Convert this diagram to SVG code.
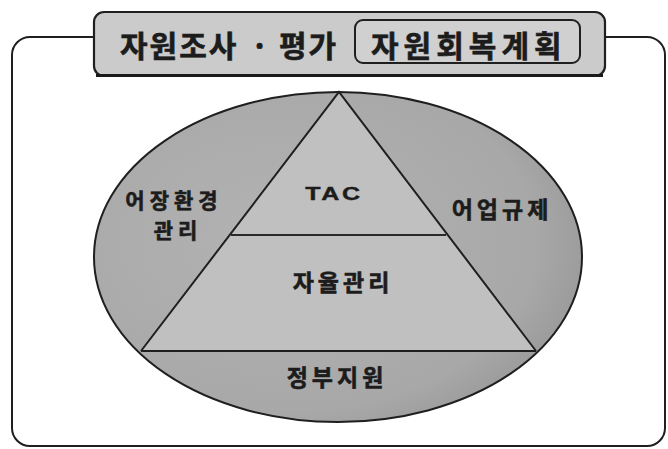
<svg xmlns="http://www.w3.org/2000/svg" width="668" height="449" viewBox="0 0 668 449">
  <style>
    .k { font-family: "Noto Sans CJK KR", "Noto Sans", sans-serif; font-weight: bold; fill: #1c1c1c; stroke: #1c1c1c; stroke-width: 0.6; }
    .lat { font-family: "Liberation Sans", "Noto Sans CJK KR", sans-serif; font-weight: bold; fill: #1c1c1c; stroke: #1c1c1c; stroke-width: 0.4; }
    .lbl { font-size: 23px; letter-spacing: 4px; text-anchor: middle; }
    .edge { fill: none; stroke: #1f1f1f; stroke-width: 2; }
    .thin { fill: none; stroke: #2a2a2a; stroke-width: 1.8; }
  </style>
  <defs>
    <radialGradient id="ellGrad" cx="0.38" cy="0.45" r="0.75">
      <stop offset="0" stop-color="#b3b3b3"/>
      <stop offset="0.7" stop-color="#a8a8a8"/>
      <stop offset="1" stop-color="#8e8e8e"/>
    </radialGradient>
    <linearGradient id="frameGrad" x1="0" y1="0" x2="1" y2="0">
      <stop offset="0" stop-color="#d8d8d8"/>
      <stop offset="0.5" stop-color="#e3e3e3"/>
      <stop offset="1" stop-color="#dbdbdb"/>
    </linearGradient>
    <clipPath id="ellClip">
      <ellipse cx="338" cy="257" rx="244" ry="165"/>
    </clipPath>
  </defs>

  <rect x="0" y="0" width="668" height="449" fill="#ffffff"/>

  <g id="frame">
    <rect x="12" y="37" width="653" height="409" rx="18" ry="18" fill="url(#frameGrad)" class="edge"/>
  </g>

  <g id="title-tab">
    <rect x="94" y="12" width="511" height="64" rx="10" ry="10" fill="#cbcbcb" stroke="#1f1f1f" stroke-width="2.2"/>
    <line x1="96" y1="75.5" x2="603" y2="75.5" stroke="#1a1a1a" stroke-width="3"/>
    <text class="k" font-size="30" y="57">
      <tspan x="120" letter-spacing="2">자원조사</tspan>
      <tspan x="263" text-anchor="middle">·</tspan>
      <tspan x="279" letter-spacing="2">평가</tspan>
    </text>
    <g id="title-box">
      <rect x="355" y="20" width="225" height="43" rx="8" ry="8" fill="#d0d0d0" stroke="#1f1f1f" stroke-width="2"/>
      <text class="k" font-size="30" x="371" y="57" letter-spacing="5">자원회복계획</text>
    </g>
  </g>

  <g id="ellipse">
    <ellipse cx="338" cy="257" rx="244" ry="165" fill="url(#ellGrad)"/>
  </g>

  <g id="triangle">
    <polygon points="339,92 141,351 536,351" fill="#c0c0c0" clip-path="url(#ellClip)"/>
  </g>

  <g id="connectors">
    <ellipse cx="338" cy="257" rx="244" ry="165" class="edge"/>
    <polyline points="141,351 339,92 536,351" class="edge"/>
    <line x1="141" y1="351" x2="536" y2="351" class="edge"/>
    <line x1="231" y1="235" x2="446" y2="235" class="thin"/>
  </g>

  <g id="label-tac">
    <text class="lat" font-size="19" x="0" y="0" text-anchor="middle" letter-spacing="2" transform="translate(334,200) scale(1.32,1)">TAC</text>
  </g>
  <g id="label-habitat">
    <text class="k lbl" style="font-size:21px; letter-spacing:5px"><tspan x="174" y="208">어장환경</tspan><tspan x="178" y="238">관리</tspan></text>
  </g>
  <g id="label-regulation">
    <text class="k lbl" x="502" y="218">어업규제</text>
  </g>
  <g id="label-self">
    <text class="k lbl" x="343" y="291">자율관리</text>
  </g>
  <g id="label-gov">
    <text class="k lbl" x="337" y="386">정부지원</text>
  </g>
</svg>
